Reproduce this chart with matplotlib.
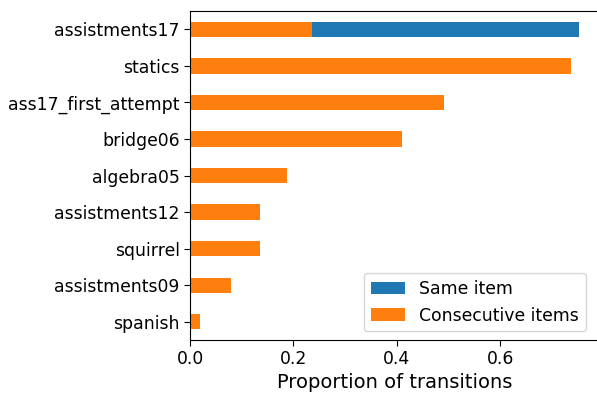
import matplotlib
matplotlib.use("Agg")
import matplotlib.pyplot as plt
import numpy as np

datasets = ["spanish", "assistments09", "squirrel", "assistments12", "algebra05",
            "bridge06", "ass17_first_attempt", "statics", "assistments17"]
same_item = [0.018, 0.076, 0.133, 0.131, 0.184, 0.405, 0.487, 0.733, 0.753]
consecutive_items = [0.020, 0.079, 0.136, 0.135, 0.187, 0.410, 0.491, 0.738, 0.236]

fig = plt.figure(figsize=(5.97, 3.98), dpi=100)
ax = fig.add_axes([0.3183, 0.1457, 0.684, 0.8266])

y = np.arange(len(datasets))
ax.barh(y, same_item, height=0.42, color="#1f77b4", label="Same item")
ax.barh(y, consecutive_items, height=0.42, color="#ff7f0e", label="Consecutive items")

ax.set_yticks(y)
ax.set_yticklabels(datasets, fontsize=12.4)
ax.set_ylim(-0.5, len(datasets) - 0.5)
ax.set_xlim(0, 0.79)
ax.set_xticks([0.0, 0.2, 0.4, 0.6])
ax.tick_params(axis="both", labelsize=12.4, length=4)
ax.set_xlabel("Proportion of transitions", fontsize=14, labelpad=3)
ax.legend(loc="lower right", fontsize=12.4, bbox_to_anchor=(0.99, 0.0))

fig.savefig("out.png", dpi=100)
